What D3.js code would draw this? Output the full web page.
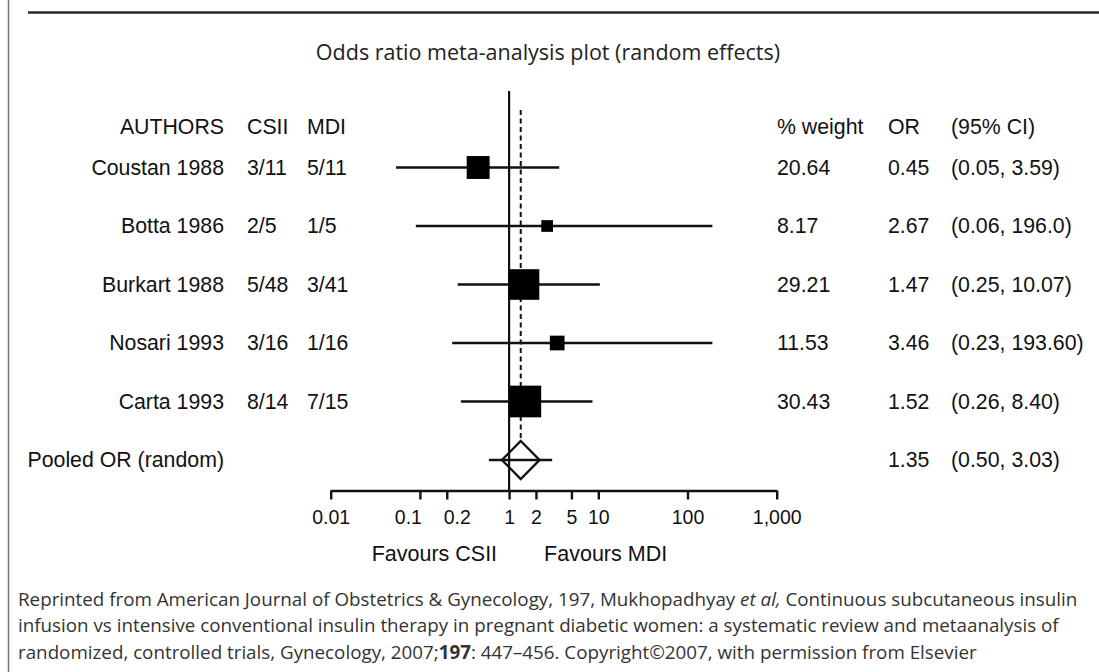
<!DOCTYPE html>
<html>
<head>
<meta charset="utf-8">
<script src="https://cdn.jsdelivr.net/npm/d3@7"></script>
<style>
  body { margin: 0; background: #fff; }
  .tbl { font-family: "Liberation Sans", Arial, sans-serif; font-size: 21.3px; fill: #111; }
  .tick text { font-family: "Liberation Sans", Arial, sans-serif; font-size: 19.5px; fill: #111; }
  .title { font-family: "Open Sans", sans-serif; font-size: 21.5px; fill: #222; }
  .caption { font-family: "Open Sans", sans-serif; font-size: 18.8px; fill: #333; }
</style>
</head>
<body>
<div id="chart"></div>
<script>
// study rows
const authors = ["Coustan 1988", "Botta 1986", "Burkart 1988", "Nosari 1993", "Carta 1993"];
const csii = ["3/11", "2/5", "5/48", "3/16", "8/14"];
const mdi = ["5/11", "1/5", "3/41", "1/16", "7/15"];
const weights = [20.64, 8.17, 29.21, 11.53, 30.43];
const weightText = ["20.64", "8.17", "29.21", "11.53", "30.43"];
const oddsRatio = [0.45, 2.67, 1.47, 3.46, 1.52];
const orText = ["0.45", "2.67", "1.47", "3.46", "1.52"];
const ciText = ["(0.05, 3.59)", "(0.06, 196.0)", "(0.25, 10.07)", "(0.23, 193.60)", "(0.26, 8.40)"];
// whisker ends as drawn in the plot
const ciLow = [0.054, 0.09, 0.265, 0.23, 0.288];
const ciHigh = [3.65, 190, 10.4, 190, 8.6];

// pooled estimate
const pooledLabel = "Pooled OR (random)";
const pooledOR = 1.35;
const pooledOrText = "1.35";
const pooledCiText = "(0.50, 3.03)";
const pooledLow = 0.594;
const pooledHigh = 3.04;

const tickValues = [0.01, 0.1, 0.2, 1, 2, 5, 10, 100, 1000];
const headers = ["AUTHORS", "CSII", "MDI", "% weight", "OR", "(95% CI)"];

const width = 1099;
const height = 672;

const svg = d3.select("#chart").append("svg")
  .attr("width", width)
  .attr("height", height)
  .attr("viewBox", [0, 0, width, height]);

// frame: grey left border + dark top rule
svg.append("line")
  .attr("x1", 8.5).attr("x2", 8.5).attr("y1", 0).attr("y2", height)
  .attr("stroke", "#777").attr("stroke-width", 1.5);
svg.append("line")
  .attr("x1", 28).attr("x2", width).attr("y1", 12.5).attr("y2", 12.5)
  .attr("stroke", "#2a2a2a").attr("stroke-width", 2.5);

svg.append("text")
  .attr("class", "title")
  .attr("x", 548)
  .attr("y", 52)
  .attr("dy", "0.35em")
  .attr("text-anchor", "middle")
  .text("Odds ratio meta-analysis plot (random effects)");

const x = d3.scaleLog().domain([0.01, 1000]).range([330.7, 776.7]);
const y = d3.scaleLinear().domain([0, 5]).range([167.5, 460]);
const side = d3.scaleLinear().domain(d3.extent(weights)).range([11.7, 31.7]);

const axisY = 490.5;
const headerY = 127;

// column x positions
const colAuthor = 224;
const colCsii = 247;
const colMdi = 307;
const colWeight = 777;
const colOr = 888;
const colCi = 951;

const hdrX = [colAuthor, colCsii, colMdi, colWeight, colOr, colCi];
svg.append("g").selectAll("text")
  .data(headers)
  .join("text")
  .attr("class", "tbl")
  .attr("x", function (d, i) { return hdrX[i]; })
  .attr("y", headerY)
  .attr("dy", "0.35em")
  .attr("text-anchor", function (d, i) { return i === 0 ? "end" : "start"; })
  .text(function (d) { return d; });

// reference line at OR = 1 and dashed pooled line
svg.append("line")
  .attr("x1", x(1)).attr("x2", x(1))
  .attr("y1", 91).attr("y2", axisY)
  .attr("stroke", "#111").attr("stroke-width", 2.2);

svg.append("line")
  .attr("x1", x(pooledOR)).attr("x2", x(pooledOR))
  .attr("y1", 110).attr("y2", y(5) - 19)
  .attr("stroke", "#111").attr("stroke-width", 2)
  .attr("stroke-dasharray", "5,3.5");

const rows = authors.map(function (a, i) {
  return { author: a, csii: csii[i], mdi: mdi[i], w: weights[i], wt: weightText[i],
           or: oddsRatio[i], ort: orText[i], ci: ciText[i], lo: ciLow[i], hi: ciHigh[i] };
});

const rowG = svg.append("g").selectAll("g")
  .data(rows)
  .join("g");

rowG.append("line")
  .attr("x1", function (d) { return x(d.lo); })
  .attr("x2", function (d) { return x(d.hi); })
  .attr("y1", function (d, i) { return y(i); })
  .attr("y2", function (d, i) { return y(i); })
  .attr("stroke", "#111").attr("stroke-width", 2.4);

rowG.append("rect")
  .attr("x", function (d) { return x(d.or) - side(d.w) / 2; })
  .attr("y", function (d, i) { return y(i) - side(d.w) / 2; })
  .attr("width", function (d) { return side(d.w); })
  .attr("height", function (d) { return side(d.w); })
  .attr("fill", "#000");

const textCols = [
  { key: "author", x: colAuthor, anchor: "end" },
  { key: "csii", x: colCsii, anchor: "start" },
  { key: "mdi", x: colMdi, anchor: "start" },
  { key: "wt", x: colWeight, anchor: "start" },
  { key: "ort", x: colOr, anchor: "start" },
  { key: "ci", x: colCi, anchor: "start" }
];

textCols.forEach(function (c) {
  rowG.append("text")
    .attr("class", "tbl")
    .attr("x", c.x)
    .attr("y", function (d, i) { return y(i); })
    .attr("dy", "0.35em")
    .attr("text-anchor", c.anchor)
    .text(function (d) { return d[c.key]; });
});

// pooled row
const py = y(5);
svg.append("line")
  .attr("x1", x(pooledLow)).attr("x2", x(pooledHigh))
  .attr("y1", py).attr("y2", py)
  .attr("stroke", "#111").attr("stroke-width", 2.4);

const dw = 18.8;
const dh = 19;
const px = x(pooledOR);
svg.append("path")
  .attr("d", `M${px},${py - dh}L${px + dw},${py}L${px},${py + dh}L${px - dw},${py}Z`)
  .attr("fill", "none")
  .attr("stroke", "#111")
  .attr("stroke-width", 2.4);

[[colAuthor, "end", pooledLabel], [colOr, "start", pooledOrText], [colCi, "start", pooledCiText]]
  .forEach(function (t) {
    svg.append("text")
      .attr("class", "tbl")
      .attr("x", t[0])
      .attr("y", py)
      .attr("dy", "0.35em")
      .attr("text-anchor", t[1])
      .text(t[2]);
  });

// log axis
const axis = d3.axisBottom(x)
  .tickValues(tickValues)
  .tickFormat(d3.format(","))
  .tickSize(9)
  .tickSizeOuter(0)
  .tickPadding(11);

const axisG = svg.append("g")
  .attr("transform", `translate(0,${axisY})`)
  .call(axis);
axisG.select(".domain").attr("stroke", "#111").attr("stroke-width", 2.4);
axisG.selectAll(".tick line").attr("stroke", "#111").attr("stroke-width", 2.4);
axisG.selectAll(".tick text")
  .attr("font-family", null)
  .attr("font-size", null)
  // the 0.1 and 0.2 labels are pushed apart in the original
  .attr("dx", function (d) { return d === 0.1 ? -12 : d === 0.2 ? 10 : 0; });

svg.append("text")
  .attr("class", "tbl")
  .attr("x", x(1) - 12)
  .attr("y", 553)
  .attr("dy", "0.35em")
  .attr("text-anchor", "end")
  .style("font-size", "21.5px")
  .text("Favours CSII");

svg.append("text")
  .attr("class", "tbl")
  .attr("x", x(1) + 35)
  .attr("y", 553)
  .attr("dy", "0.35em")
  .attr("text-anchor", "start")
  .style("font-size", "21.5px")
  .text("Favours MDI");

// source caption
const captionLines = [
  [["Reprinted from American Journal of Obstetrics & Gynecology, 197, Mukhopadhyay ", "normal"],
   ["et al,", "italic"], [" Continuous subcutaneous insulin", "normal"]],
  [["infusion vs intensive conventional insulin therapy in pregnant diabetic women: a systematic review and metaanalysis of", "normal"]],
  [["randomized, controlled trials, Gynecology, 2007;", "normal"], ["197", "bold"],
   [": 447\u2013456. Copyright\u00a92007, with permission from Elsevier", "normal"]]
];

const cap = svg.append("g");
captionLines.forEach(function (parts, i) {
  const t = cap.append("text")
    .attr("class", "caption")
    .attr("x", 18)
    .attr("y", 599 + i * 26.5)
    .attr("dy", "0.35em");
  parts.forEach(function (p) {
    t.append("tspan")
      .style("font-style", p[1] === "italic" ? "italic" : "normal")
      .style("font-weight", p[1] === "bold" ? "bold" : "normal")
      .text(p[0]);
  });
});
</script>
</body>
</html>
